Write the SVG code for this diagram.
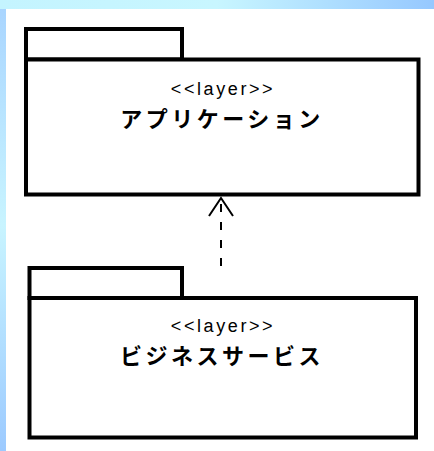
<svg xmlns="http://www.w3.org/2000/svg" width="434" height="451" viewBox="0 0 434 451">
  <defs>
    <linearGradient id="topband" x1="0" y1="0" x2="1" y2="0">
      <stop offset="0" stop-color="#c4f4ff"/>
      <stop offset="0.5" stop-color="#c8f6ff"/>
      <stop offset="1" stop-color="#96c8ff"/>
    </linearGradient>
    <linearGradient id="leftband" x1="0" y1="0" x2="0" y2="1">
      <stop offset="0" stop-color="#a8d4ff"/>
      <stop offset="0.5" stop-color="#c8f4ff"/>
      <stop offset="1" stop-color="#9ccaff"/>
    </linearGradient>
  </defs>
  <style>
    .pkg { fill: #fff; stroke: #000; stroke-width: 4; }
    .stereo { font-family: "Liberation Sans", "DejaVu Sans", sans-serif; font-size: 18px; letter-spacing: 2.6px; text-anchor: middle; fill: #000; }
    .name { font-family: "Noto Sans CJK JP", "Noto Sans CJK SC", sans-serif; font-size: 22px; font-weight: bold; letter-spacing: 3.5px; text-anchor: middle; fill: #000; }
    .dep { fill: none; stroke: #000; stroke-width: 2; stroke-dasharray: 8 10; }
    .head { fill: none; stroke: #000; stroke-width: 2; }
  </style>
  <rect x="0" y="0" width="434" height="451" fill="url(#leftband)"/>
  <rect x="0" y="0" width="434" height="9" fill="url(#topband)"/>
  <rect x="6" y="9" width="428" height="442" fill="#fff"/>

  <g id="application">
    <rect class="pkg" x="26" y="29" width="156" height="30.5"/>
    <rect class="pkg" x="26" y="59.5" width="392.5" height="135"/>
    <text class="stereo" x="223" y="95">&lt;&lt;layer&gt;&gt;</text>
    <text class="name" x="222" y="127">アプリケーション</text>
  </g>

  <g id="business-service">
    <rect class="pkg" x="29.5" y="268" width="152.5" height="30"/>
    <rect class="pkg" x="29.5" y="298" width="386.5" height="139.5"/>
    <text class="stereo" x="223" y="332">&lt;&lt;layer&gt;&gt;</text>
    <text class="name" x="222" y="364">ビジネスサービス</text>
  </g>

  <g id="connectors">
    <line class="dep" x1="221" y1="266" x2="221" y2="197"/>
    <path class="head" d="M209,216 L221,198 L233,216"/>
  </g>
</svg>
